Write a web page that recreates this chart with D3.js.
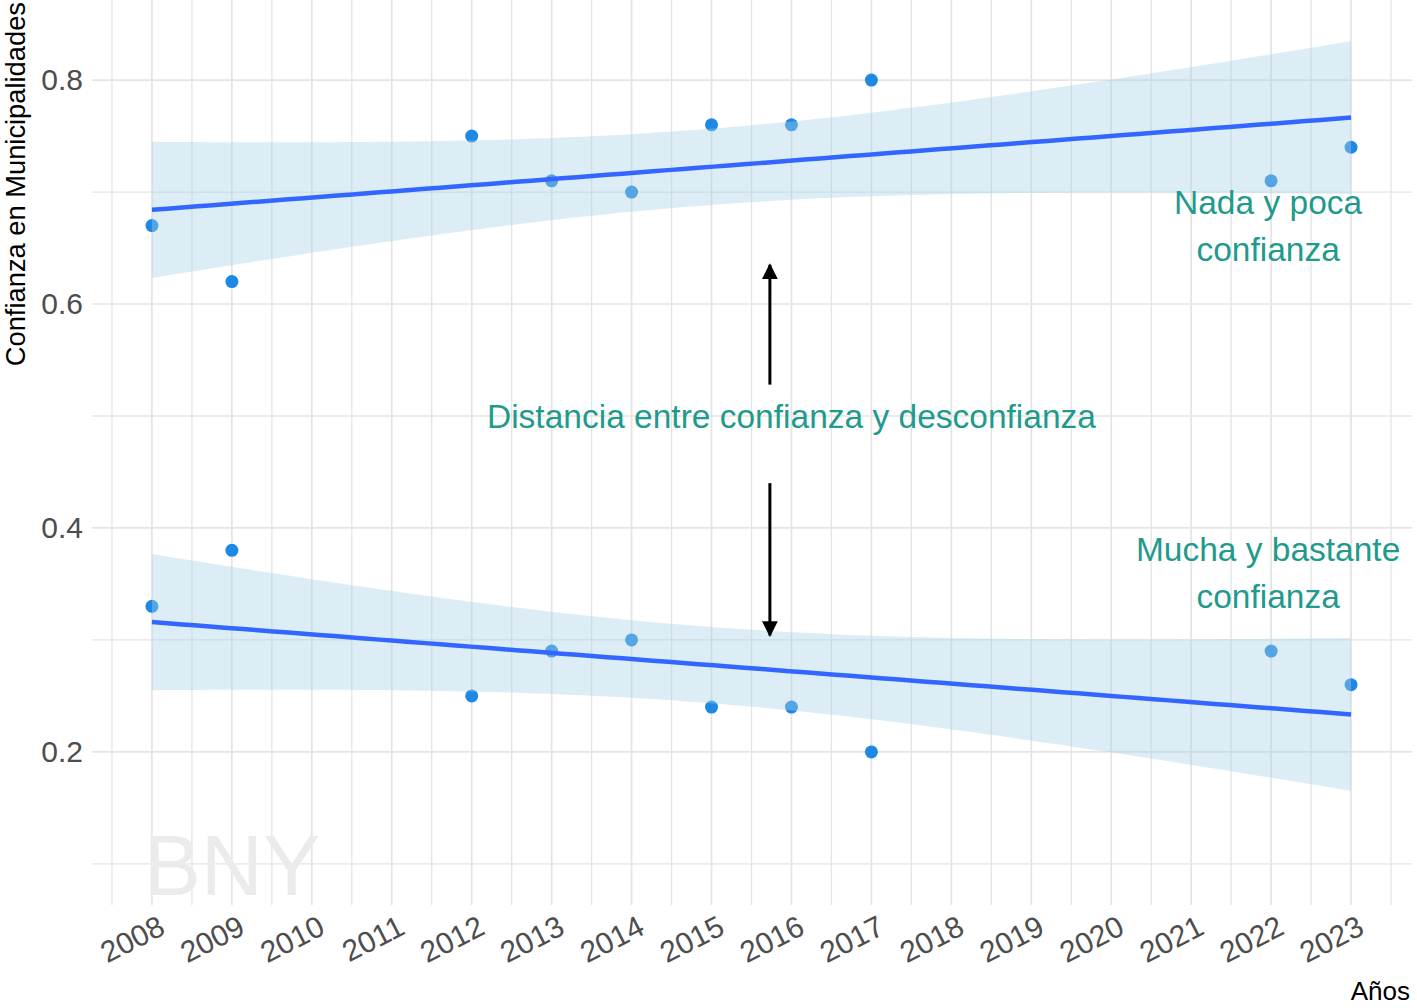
<!DOCTYPE html>
<html><head><meta charset="utf-8">
<script src="https://cdn.jsdelivr.net/npm/d3@7"></script>
<style>body{margin:0;background:#fff}svg{display:block}text{font-family:"Liberation Sans",Arial,sans-serif}</style>
</head><body><svg id="c" width="1417" height="1008"></svg>
<script>
const years = [2008, 2009, 2012, 2013, 2014, 2015, 2016, 2017, 2022, 2023];
const nadaPoca = [0.67, 0.62, 0.75, 0.71, 0.70, 0.76, 0.76, 0.80, 0.71, 0.74];
const muchaBastante = [0.33, 0.38, 0.25, 0.29, 0.30, 0.24, 0.24, 0.20, 0.29, 0.26];
const xTicks = d3.range(2008, 2024);
const yTicks = [0.2, 0.4, 0.6, 0.8];
const yMinor = [0.1, 0.3, 0.5, 0.7];
const tCrit = 2.306; // t(0.975, df = 8)

function fit(xs, ys) {
  const n = xs.length, mx = d3.mean(xs), my = d3.mean(ys);
  let sxx = 0, sxy = 0;
  xs.forEach((x, i) => { sxx += (x - mx) ** 2; sxy += (x - mx) * (ys[i] - my); });
  const b = sxy / sxx, a = my - b * mx;
  let sse = 0; xs.forEach((x, i) => { sse += (ys[i] - (a + b * x)) ** 2; });
  const s = Math.sqrt(sse / (n - 2));
  return d3.range(80).map(k => {
    const x = d3.min(xs) + k * (d3.max(xs) - d3.min(xs)) / 79;
    const y = a + b * x, se = s * Math.sqrt(1 / n + (x - mx) ** 2 / sxx);
    return { x, y, lo: y - tCrit * se, hi: y + tCrit * se };
  });
}
const fitA = fit(years, nadaPoca), fitB = fit(years, muchaBastante);

const svg = d3.select("#c");
const L = 92, R = 1411, T = 0, B = 905;
const xExt = [2008, 2023], xPad = (xExt[1] - xExt[0]) * 0.05;
const x = d3.scaleLinear().domain([xExt[0] - xPad, xExt[1] + xPad]).range([L, R]);
const yLo = 0.1, yHi = d3.max(fitA, d => d.hi), yPad = (yHi - yLo) * 0.05;
const y = d3.scaleLinear().domain([yLo - yPad, yHi + yPad]).range([B, T]);

const grid = svg.append("g").attr("stroke", "#e4e4e4");
const xMinor = d3.range(2007.5, 2024, 1);
grid.selectAll(".vm").data(xMinor).join("line").attr("x1", d => x(d)).attr("x2", d => x(d)).attr("y1", T).attr("y2", B).attr("stroke-width", 1.3);
grid.selectAll(".hm").data(yMinor).join("line").attr("y1", d => y(d)).attr("y2", d => y(d)).attr("x1", L).attr("x2", R + 1).attr("stroke-width", 1.3);
grid.selectAll(".vM").data(xTicks).join("line").attr("x1", d => x(d)).attr("x2", d => x(d)).attr("y1", T).attr("y2", B).attr("stroke-width", 1.7);
grid.selectAll(".hM").data(yTicks).join("line").attr("y1", d => y(d)).attr("y2", d => y(d)).attr("x1", L).attr("x2", R + 1).attr("stroke-width", 1.7);

// watermark
svg.append("text").attr("x", x(2009)).attr("y", y(0.1)).attr("dy", "0.36em").attr("text-anchor", "middle")
  .attr("font-size", 86).attr("fill", "#ebebeb").text("BNY");

// axes
const yAxis = d3.axisLeft(y).tickValues(yTicks).tickSize(0).tickPadding(9).tickFormat(d3.format(".1f"));
const gy = svg.append("g").attr("transform", `translate(${L},0)`).call(yAxis);
gy.select(".domain").remove();
gy.selectAll("text").attr("font-size", 30).attr("fill", "#4d4d4d").attr("font-family", "Liberation Sans, Arial, sans-serif");

const gx = svg.append("g");
gx.selectAll("text").data(xTicks).join("text")
  .attr("transform", d => `translate(${x(d) + 5},${B + 9}) rotate(-27)`)
  .attr("text-anchor", "end").attr("dy", "0.72em")
  .attr("font-size", 30).attr("fill", "#4d4d4d").text(d => d);

// points
const pts = svg.append("g");
[nadaPoca, muchaBastante].forEach(vals => {
  pts.selectAll(null).data(vals).join("circle")
    .attr("cx", (d, i) => x(years[i])).attr("cy", d => y(d)).attr("r", 6.5).attr("fill", "#1e88e5");
});

// ribbons + lines
const area = d3.area().x(d => x(d.x)).y0(d => y(d.lo)).y1(d => y(d.hi));
const line = d3.line().x(d => x(d.x)).y(d => y(d.y));
[fitA, fitB].forEach(f => {
  svg.append("path").datum(f).attr("d", area).attr("fill", "#a8d1e7").attr("fill-opacity", 0.4);
});
[fitA, fitB].forEach(f => {
  svg.append("path").datum(f).attr("d", line).attr("fill", "none").attr("stroke", "#3366ff").attr("stroke-width", 4.5);
});

// annotations
const teal = "#1f9a8c";
function multi(lines, cx, cy0, gap) {
  lines.forEach((t, i) => svg.append("text").attr("x", x(cx) - 3).attr("y", cy0 + i * gap)
    .attr("text-anchor", "middle").attr("font-size", 33.5).attr("fill", teal).text(t));
}
multi(["Nada y poca", "confianza"], 2022, 214, 47);
multi(["Mucha y bastante", "confianza"], 2022, 561, 47);
svg.append("text").attr("x", x(2016)).attr("y", 428).attr("text-anchor", "middle")
  .attr("font-size", 33.5).attr("fill", teal).text("Distancia entre confianza y desconfianza");

// arrows
const defs = svg.append("defs");
defs.append("marker").attr("id", "ah").attr("viewBox", "0 0 10 10").attr("refX", 9).attr("refY", 5)
  .attr("markerWidth", 5.3).attr("markerHeight", 5.3).attr("markerUnits", "strokeWidth").attr("orient", "auto")
  .append("path").attr("d", "M0,0 L10,5 L0,10 Z").attr("fill", "#000");
const arrows = [{ x: 2015.73, from: 0.528, to: 0.635 }, { x: 2015.73, from: 0.44, to: 0.304 }];
svg.selectAll(".arr").data(arrows).join("line")
  .attr("x1", d => x(d.x)).attr("x2", d => x(d.x)).attr("y1", d => y(d.from)).attr("y2", d => y(d.to))
  .attr("stroke", "#000").attr("stroke-width", 3).attr("marker-end", "url(#ah)");

// axis titles
svg.append("text").attr("transform", "translate(25,2) rotate(-90)").attr("text-anchor", "end")
  .attr("font-size", 27.3).attr("fill", "#000").text("Confianza en Municipalidades");
svg.append("text").attr("x", 1410).attr("y", 1000).attr("text-anchor", "end")
  .attr("font-size", 26).attr("fill", "#000").text("Años");
</script></body></html>
